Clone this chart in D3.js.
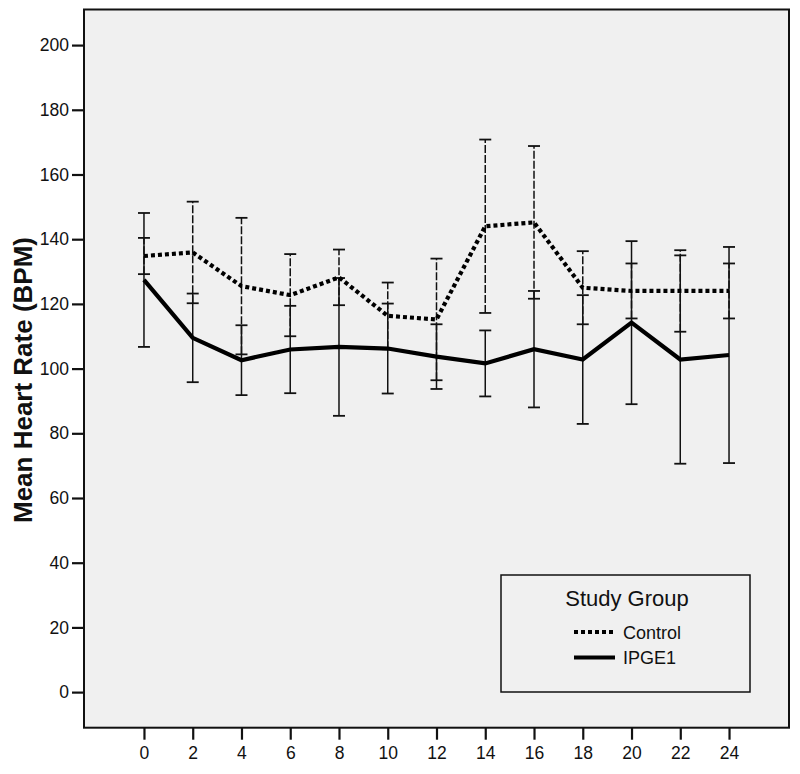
<!DOCTYPE html>
<html><head><meta charset="utf-8">
<script src="https://cdn.jsdelivr.net/npm/d3@7"></script>
<style>body{margin:0;background:#fff;}svg{display:block;font-family:"Liberation Sans",Arial,sans-serif;}</style>
</head><body>
<svg id="c" width="800" height="774"></svg>
<script>
const hours = [0,2,4,6,8,10,12,14,16,18,20,22,24];
const controlMean = [134.8,135.9,125.5,122.7,128.2,116.3,115.2,144.0,145.2,125.0,124.0,124.0,124.0];
const controlErr  = [5.6,15.7,21.1,12.7,8.6,10.3,18.8,26.8,23.6,11.3,8.5,12.6,8.5];
const ipgeMean = [127.4,109.5,102.6,105.9,106.7,106.2,103.7,101.6,106.0,102.8,114.2,102.8,104.2];
const ipgeErr  = [20.7,13.7,10.8,13.5,21.3,13.9,10.0,10.2,18.0,19.9,25.2,32.2,33.4];
const yTicks = [0,20,40,60,80,100,120,140,160,180,200];
const seriesNames = ["Control","IPGE1"];

const svg = d3.select("#c");
const L=84,R=789,T=9.5,B=727.7;
const x = d3.scaleLinear().domain([-2.46,26.46]).range([L,R]);
const y = d3.scaleLinear().domain([-11,211]).range([B,T]);

svg.append("rect").attr("x",L).attr("y",T).attr("width",R-L).attr("height",B-T).attr("fill","#f0f0f0");

// axes
const ya = svg.append("g").attr("transform",`translate(${L},0)`)
  .call(d3.axisLeft(y).tickValues(yTicks).tickSize(12).tickPadding(3));
const xa = svg.append("g").attr("transform",`translate(0,${B})`)
  .call(d3.axisBottom(x).tickValues(hours).tickSize(12).tickPadding(7));
[ya,xa].forEach(g=>{
  g.select(".domain").remove();
  g.selectAll(".tick line").attr("stroke","#111").attr("stroke-width",2.2);
  g.selectAll(".tick text").attr("fill","#111").style("font-size","17.5px").style("font-family","Liberation Sans, Arial, sans-serif");
});

svg.append("text").attr("transform","translate(32,380) rotate(-90)").attr("text-anchor","middle")
  .style("font-size","26px").style("font-weight","bold").attr("fill","#111").text("Mean Heart Rate (BPM)");

const series = [
  {name:seriesNames[0], mean:controlMean, err:controlErr, dash:"4,3", eDash:"8,2"},
  {name:seriesNames[1], mean:ipgeMean, err:ipgeErr, dash:null, eDash:null}
];
const capW = 6;
series.forEach(s=>{
  const g = svg.append("g");
  hours.forEach((h,i)=>{
    const lo = s.mean[i]-s.err[i], hi = s.mean[i]+s.err[i];
    g.append("line").attr("x1",x(h)).attr("x2",x(h)).attr("y1",y(lo)).attr("y2",y(hi))
      .attr("stroke","#111").attr("stroke-width",1.5).attr("stroke-dasharray",s.eDash);
    [lo,hi].forEach(v=>{
      g.append("line").attr("x1",x(h)-capW).attr("x2",x(h)+capW).attr("y1",y(v)).attr("y2",y(v))
        .attr("stroke","#111").attr("stroke-width",1.8);
    });
  });
});
series.forEach(s=>{
  svg.append("path").datum(hours.map((h,i)=>[h,s.mean[i]]))
    .attr("d",d3.line().x(d=>x(d[0])).y(d=>y(d[1])))
    .attr("fill","none").attr("stroke","#000").attr("stroke-width",4.2)
    .attr("stroke-dasharray",s.dash).attr("stroke-linejoin","miter");
});

// border
svg.append("rect").attr("x",L).attr("y",T).attr("width",R-L).attr("height",B-T)
  .attr("fill","none").attr("stroke","#111").attr("stroke-width",2);

// legend
const lg = svg.append("g");
lg.append("rect").attr("x",501).attr("y",575).attr("width",249).attr("height",117)
  .attr("fill","#f0f0f0").attr("stroke","#111").attr("stroke-width",1.5);
lg.append("text").attr("x",627).attr("y",606).attr("text-anchor","middle")
  .style("font-size","22px").attr("fill","#111").text("Study Group");
series.forEach((s,i)=>{
  const yy = 632 + i*25.5;
  lg.append("line").attr("x1",574).attr("x2",615).attr("y1",yy).attr("y2",yy)
    .attr("stroke","#000").attr("stroke-width",4.2).attr("stroke-dasharray",s.dash);
  lg.append("text").attr("x",623).attr("y",yy+6.5).style("font-size","18px").attr("fill","#111").text(s.name);
});
</script>
</body></html>
